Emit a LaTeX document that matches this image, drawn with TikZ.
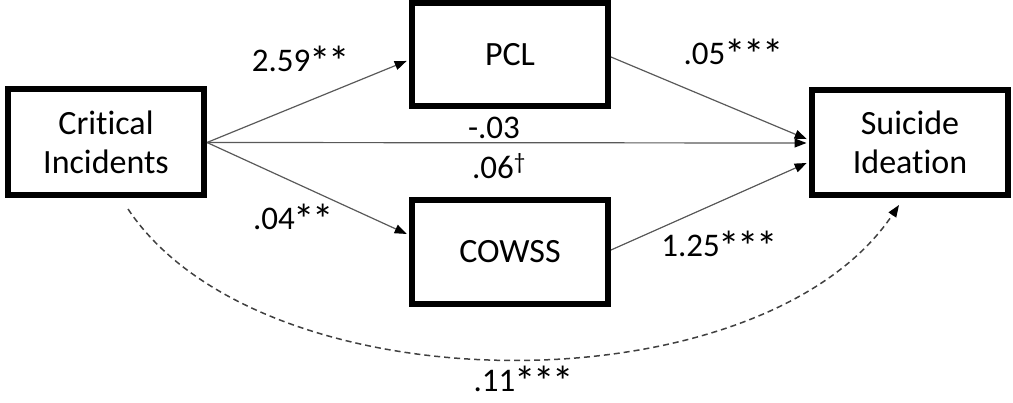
\documentclass[tikz,border=0pt]{standalone}
\usepackage{fontspec}
\setmainfont[RawFeature=-liga]{Carlito}
\usetikzlibrary{arrows.meta,calc}
% larger, tightly set significance star
\newcommand\sigstar{\kern-1.2pt\smash{\raisebox{-5pt}{\scalebox{1.3}{*}}}\kern-1.2pt}

\begin{document}
\begin{tikzpicture}[x=1pt,y=-1pt,
  varbox/.style={draw=black,line width=6pt,fill=white,minimum width=196pt,
    inner sep=0pt,align=center,font=\fontsize{34}{39}\selectfont},
  path/.style={draw=black!65,line width=1.2pt,
    -{Triangle[length=12pt,width=9pt,color=black]},shorten >=2.5pt},
  coef/.style={font=\fontsize{33}{38}\selectfont,inner sep=0pt},
]
\useasboundingbox (0,0) rectangle (1013,402);

% variables
\node[varbox,minimum height=106pt] (ci)  at (106,142)   {Critical\\Incidents};
\node[varbox,minimum height=103pt] (pcl) at (510,54.5)  {PCL};
\node[varbox,minimum height=104pt] (cow) at (510,252)   {COWSS};
\node[varbox,minimum height=105pt] (si)  at (910,142.5) {Suicide\\Ideation};

% attachment points on the box borders
\coordinate (ciout)  at ($(ci.east)+(0,0.5)$);
\coordinate (pclin)  at ($(pcl.west)+(0,5.5)$);
\coordinate (pclout) at ($(pcl.east)+(0,2.5)$);
\coordinate (cowin)  at ($(cow.west)+(0,-17)$);
\coordinate (cowout) at ($(cow.east)+(0,-2)$);
\coordinate (sitop)  at ($(si.west)+(0,-2.5)$);
\coordinate (simid)  at ($(si.west)+(0,0.5)$);
\coordinate (sibot)  at ($(si.west)+(0,19.5)$);
\coordinate (tstart) at (128,209);
\coordinate (tend)   at (899,205);

% paths
\draw[path] (ciout) -- (pclin);
\draw[path] (ciout) -- (cowin);
\draw[path] (ciout) -- (simid);
\draw[path] (pclout) -- (sitop);
\draw[path] (cowout) -- (sibot);

% total effect
\draw[draw=black!75,line width=1.5pt,dash pattern=on 6pt off 4pt,
  -{Triangle[length=12pt,width=9pt,color=black]}]
  (tstart) .. controls (262,410) and (762,410) .. (tend);

% coefficients
\node[coef] (a1) at (300,61)  {2.59\sigstar\sigstar};
\node[coef] (b1) at (733,54)  {.05\sigstar\sigstar\sigstar};
\node[coef] (c1) at (494,128) {-.03};
\node[coef] (c0) at (499,166) {.06\textsuperscript{\textdagger}};
\node[coef] (a2) at (293,219) {.04\sigstar\sigstar};
\node[coef] (b2) at (719,246) {1.25\sigstar\sigstar\sigstar};
\node[coef] (tt) at (523,381) {.11\sigstar\sigstar\sigstar};
\end{tikzpicture}
\end{document}
